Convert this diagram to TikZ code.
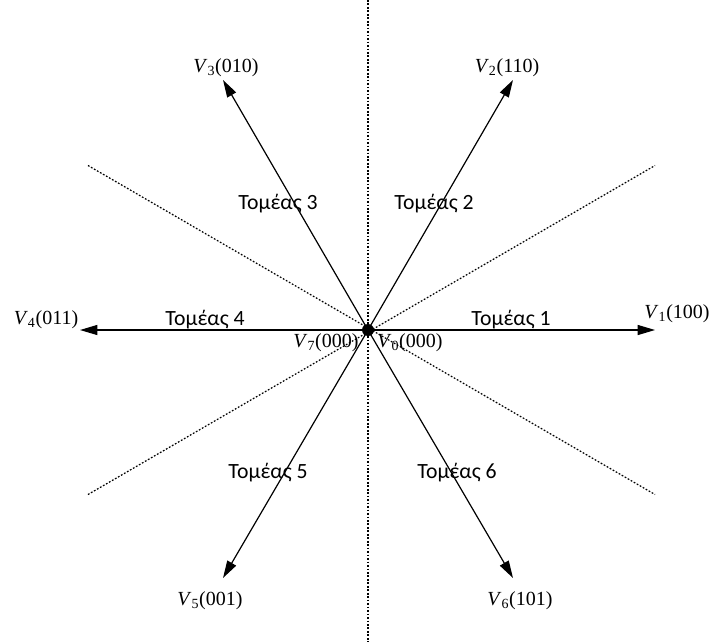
\documentclass[tikz,border=0pt]{standalone}
\usepackage{fontspec}
\setmainfont{Liberation Serif}
\newfontfamily\sectorfont{Carlito}
\usetikzlibrary{arrows.meta}
\newcommand{\vname}[2]{\textit{V}\textsubscript{#1}(#2)}
\begin{document}
\begin{tikzpicture}[x=0.75pt,y=-0.75pt,
    vec/.style={line width=0.9pt, -{Triangle[length=13pt,width=7.5pt]}},
    guide/.style={dash pattern=on 1.3pt off 1.3pt, line width=0.9pt},
    vlabel/.style={font=\fontsize{15}{15}\selectfont, inner sep=0pt},
    sector/.style={font=\sectorfont\fontsize{16.3}{16.3}\selectfont, inner sep=0pt}]
    \useasboundingbox (0,0) rectangle (710,642);
    % Origin and vector tips
    \coordinate (O) at (368,330);
    \coordinate (V1) at (655,330);
    \coordinate (V2) at (513,80);
    \coordinate (V3) at (223,80);
    \coordinate (V4) at (80,330);
    \coordinate (V5) at (223,578);
    \coordinate (V6) at (513,578);
    % Dotted sector borders
    \coordinate (Ltop) at (88,165.5);
    \coordinate (Rbot) at (655,494.5);
    \coordinate (Lbot) at (88,494.5);
    \coordinate (Rtop) at (655,165.5);
    \coordinate (Top) at (368,0);
    \coordinate (Bot) at (368,642);
    \draw[guide] (Top) -- (Bot);
    \draw[guide] (Ltop) -- (Rbot);
    \draw[guide] (Lbot) -- (Rtop);
    % Active vectors
    \draw[vec] (O) -- (V1);
    \draw[vec] (O) -- (V2);
    \draw[vec] (O) -- (V3);
    \draw[vec] (O) -- (V4);
    \draw[vec] (O) -- (V5);
    \draw[vec] (O) -- (V6);
    \fill (O) circle (6);
    % Vector labels
    \node[vlabel] (L1) at (677,314) {\vname{1}{100}};
    \node[vlabel] (L2) at (507,68) {\vname{2}{110}};
    \node[vlabel] (L3) at (226,68) {\vname{3}{010}};
    \node[vlabel] (L4) at (46,320) {\vname{4}{011}};
    \node[vlabel] (L5) at (210,601) {\vname{5}{001}};
    \node[vlabel] (L6) at (520,601) {\vname{6}{101}};
    \node[vlabel] (L7) at (326,343) {\vname{7}{000}};
    \node[vlabel] (L0) at (410,343) {\vname{0}{000}};
    % Sectors
    \node[sector] (S1) at (511,320) {Τομέας 1};
    \node[sector] (S2) at (434,204) {Τομέας 2};
    \node[sector] (S3) at (278,204) {Τομέας 3};
    \node[sector] (S4) at (205,320) {Τομέας 4};
    \node[sector] (S5) at (268,473) {Τομέας 5};
    \node[sector] (S6) at (457,473) {Τομέας 6};
\end{tikzpicture}
\end{document}
